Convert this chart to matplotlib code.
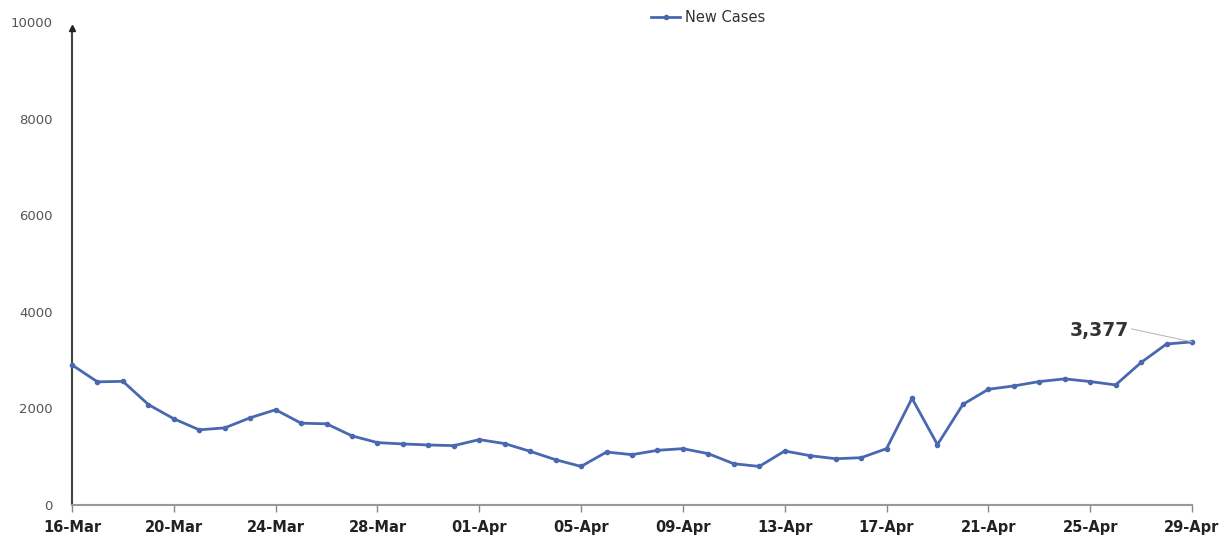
import matplotlib
matplotlib.use("Agg")
import matplotlib.pyplot as plt

dates = ["16-Mar", "17-Mar", "18-Mar", "19-Mar", "20-Mar", "21-Mar", "22-Mar", "23-Mar",
         "24-Mar", "25-Mar", "26-Mar", "27-Mar", "28-Mar", "29-Mar", "30-Mar", "31-Mar",
         "01-Apr", "02-Apr", "03-Apr", "04-Apr", "05-Apr", "06-Apr", "07-Apr", "08-Apr",
         "09-Apr", "10-Apr", "11-Apr", "12-Apr", "13-Apr", "14-Apr", "15-Apr", "16-Apr",
         "17-Apr", "18-Apr", "19-Apr", "20-Apr", "21-Apr", "22-Apr", "23-Apr", "24-Apr",
         "25-Apr", "26-Apr", "27-Apr", "28-Apr", "29-Apr"]
new_cases = [2900, 2550, 2560, 2080, 1785, 1556, 1597, 1806,
             1972, 1694, 1681, 1431, 1292, 1264, 1243, 1229,
             1354, 1271, 1111, 937, 799, 1097, 1042, 1132,
             1167, 1062, 854, 799, 1118, 1021, 958, 979,
             1167, 2208, 1250, 2083, 2396, 2465, 2556, 2611,
             2556, 2486, 2951, 3333, 3377]
y_ticks = [0, 2000, 4000, 6000, 8000, 10000]
label_text = "3,377"

line_color = "#4a68b0"

fig = plt.figure(figsize=(12.31, 5.46), dpi=100)
ax = fig.add_axes([72 / 1231, 41 / 546, 1120 / 1231, 483 / 546])

x = list(range(len(dates)))
ax.plot(x, new_cases, color=line_color, lw=2, marker="o", ms=3,
        label="New Cases", clip_on=False, zorder=3)

ax.set_xlim(0, len(dates) - 1)
ax.set_ylim(0, 10000)

tick_idx = x[::4]
ax.set_xticks(tick_idx)
ax.set_xticklabels([dates[i] for i in tick_idx], fontsize=10.5, fontweight="bold",
                   color="#222222")
ax.tick_params(axis="x", length=5, width=1, color="#888888", pad=6)

ax.set_yticks(y_ticks)
ax.set_yticklabels([str(v) for v in y_ticks], fontsize=9.5, color="#555555")
ax.tick_params(axis="y", length=0, pad=14)

for s in ["top", "right"]:
    ax.spines[s].set_visible(False)
ax.spines["bottom"].set_color("#999999")
ax.spines["bottom"].set_linewidth(1.5)
ax.spines["left"].set_color("#444444")
ax.spines["left"].set_linewidth(1.5)
ax.spines["left"].set_bounds(0, 9850)
ax.plot([0], [9880], marker="^", color="#222222", ms=5, clip_on=False,
        transform=ax.transData, zorder=4)

ax.annotate(label_text, xy=(x[-1], new_cases[-1]), xytext=(x[-1] - 3.65, 3620),
            fontsize=13.5, fontweight="bold", color="#333333", ha="center", va="center",
            arrowprops=dict(arrowstyle="-", color="#bbbbbb", lw=0.8,
                            shrinkA=0, shrinkB=0, relpos=(1.0, 0.6)))

leg = fig.legend(handles=ax.get_lines()[:1], loc="center",
                 bbox_to_anchor=(708 / 1231, 1 - 18 / 546), frameon=False,
                 fontsize=10.5, handlelength=2, handletextpad=0.3)
for t in leg.get_texts():
    t.set_color("#333333")

fig.savefig("out.png", dpi=100)
